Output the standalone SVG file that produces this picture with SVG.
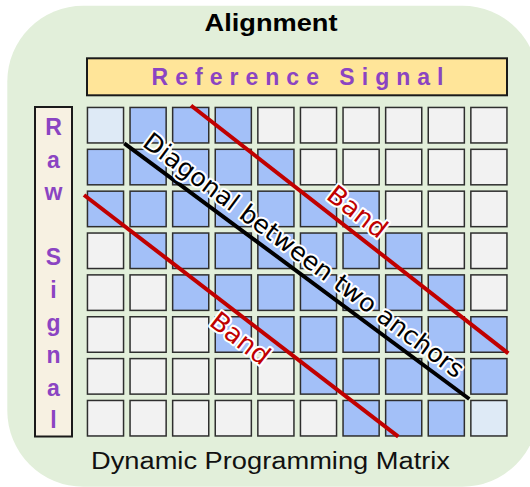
<svg xmlns="http://www.w3.org/2000/svg" width="530" height="487" viewBox="0 0 530 487">
<style>
.cell{stroke:#2e2e2e;stroke-width:1.5}
.g{fill:#f2f2f2}
.b{fill:#a3c0f8}
.l{fill:#deeaf6}
.sig{font-family:"Liberation Sans",Arial,sans-serif;font-weight:bold;font-size:23px;fill:#8b44c2}
.halo{paint-order:stroke;stroke:#ffffff;stroke-width:4;stroke-linejoin:round}
</style>
<rect x="7.3" y="5.7" width="531" height="481" rx="76" fill="#e2efda"/>
<g id="title">
<text x="271" y="30.7" text-anchor="middle" font-family="Liberation Sans, Arial, sans-serif" font-weight="bold" font-size="24" textLength="133" lengthAdjust="spacingAndGlyphs" fill="#000">Alignment</text>
</g>
<g id="reference-signal">
<rect x="87" y="58.3" width="420" height="37" fill="#ffe599" stroke="#1a1a1a" stroke-width="2"/>
<text class="sig" x="151.5" y="85" textLength="292" lengthAdjust="spacing">Reference Signal</text>
</g>
<g id="raw-signal">
<rect x="35" y="107" width="37" height="329.5" fill="#f7f1e2" stroke="#1a1a1a" stroke-width="2"/>
<g class="sig" text-anchor="middle" font-size="24">
<text x="53.5" y="135">R</text>
<text x="53.5" y="167.6">a</text>
<text x="53.5" y="200.2">w</text>
<text x="53.5" y="265.4">S</text>
<text x="53.5" y="298">i</text>
<text x="53.5" y="330.6">g</text>
<text x="53.5" y="363.2">n</text>
<text x="53.5" y="395.8">a</text>
<text x="53.5" y="428.4">l</text>
</g>
</g>
<g id="matrix">
<g class="cell">
<rect class="l" x="87.45" y="107.45" width="36.1" height="35.5"/>
<rect class="b" x="130.05" y="107.45" width="36.1" height="35.5"/>
<rect class="b" x="172.65" y="107.45" width="36.1" height="35.5"/>
<rect class="b" x="215.25" y="107.45" width="36.1" height="35.5"/>
<rect class="g" x="257.85" y="107.45" width="36.1" height="35.5"/>
<rect class="g" x="300.45" y="107.45" width="36.1" height="35.5"/>
<rect class="g" x="343.05" y="107.45" width="36.1" height="35.5"/>
<rect class="g" x="385.65" y="107.45" width="36.1" height="35.5"/>
<rect class="g" x="428.25" y="107.45" width="36.1" height="35.5"/>
<rect class="g" x="470.85" y="107.45" width="36.1" height="35.5"/>
<rect class="b" x="87.45" y="149.31" width="36.1" height="35.5"/>
<rect class="b" x="130.05" y="149.31" width="36.1" height="35.5"/>
<rect class="b" x="172.65" y="149.31" width="36.1" height="35.5"/>
<rect class="b" x="215.25" y="149.31" width="36.1" height="35.5"/>
<rect class="b" x="257.85" y="149.31" width="36.1" height="35.5"/>
<rect class="g" x="300.45" y="149.31" width="36.1" height="35.5"/>
<rect class="g" x="343.05" y="149.31" width="36.1" height="35.5"/>
<rect class="g" x="385.65" y="149.31" width="36.1" height="35.5"/>
<rect class="g" x="428.25" y="149.31" width="36.1" height="35.5"/>
<rect class="g" x="470.85" y="149.31" width="36.1" height="35.5"/>
<rect class="b" x="87.45" y="191.17" width="36.1" height="35.5"/>
<rect class="b" x="130.05" y="191.17" width="36.1" height="35.5"/>
<rect class="b" x="172.65" y="191.17" width="36.1" height="35.5"/>
<rect class="b" x="215.25" y="191.17" width="36.1" height="35.5"/>
<rect class="b" x="257.85" y="191.17" width="36.1" height="35.5"/>
<rect class="b" x="300.45" y="191.17" width="36.1" height="35.5"/>
<rect class="b" x="343.05" y="191.17" width="36.1" height="35.5"/>
<rect class="g" x="385.65" y="191.17" width="36.1" height="35.5"/>
<rect class="g" x="428.25" y="191.17" width="36.1" height="35.5"/>
<rect class="g" x="470.85" y="191.17" width="36.1" height="35.5"/>
<rect class="g" x="87.45" y="233.03" width="36.1" height="35.5"/>
<rect class="b" x="130.05" y="233.03" width="36.1" height="35.5"/>
<rect class="b" x="172.65" y="233.03" width="36.1" height="35.5"/>
<rect class="b" x="215.25" y="233.03" width="36.1" height="35.5"/>
<rect class="b" x="257.85" y="233.03" width="36.1" height="35.5"/>
<rect class="b" x="300.45" y="233.03" width="36.1" height="35.5"/>
<rect class="b" x="343.05" y="233.03" width="36.1" height="35.5"/>
<rect class="b" x="385.65" y="233.03" width="36.1" height="35.5"/>
<rect class="g" x="428.25" y="233.03" width="36.1" height="35.5"/>
<rect class="g" x="470.85" y="233.03" width="36.1" height="35.5"/>
<rect class="g" x="87.45" y="274.89" width="36.1" height="35.5"/>
<rect class="g" x="130.05" y="274.89" width="36.1" height="35.5"/>
<rect class="b" x="172.65" y="274.89" width="36.1" height="35.5"/>
<rect class="b" x="215.25" y="274.89" width="36.1" height="35.5"/>
<rect class="b" x="257.85" y="274.89" width="36.1" height="35.5"/>
<rect class="b" x="300.45" y="274.89" width="36.1" height="35.5"/>
<rect class="b" x="343.05" y="274.89" width="36.1" height="35.5"/>
<rect class="b" x="385.65" y="274.89" width="36.1" height="35.5"/>
<rect class="b" x="428.25" y="274.89" width="36.1" height="35.5"/>
<rect class="g" x="470.85" y="274.89" width="36.1" height="35.5"/>
<rect class="g" x="87.45" y="316.75" width="36.1" height="35.5"/>
<rect class="g" x="130.05" y="316.75" width="36.1" height="35.5"/>
<rect class="g" x="172.65" y="316.75" width="36.1" height="35.5"/>
<rect class="b" x="215.25" y="316.75" width="36.1" height="35.5"/>
<rect class="b" x="257.85" y="316.75" width="36.1" height="35.5"/>
<rect class="b" x="300.45" y="316.75" width="36.1" height="35.5"/>
<rect class="b" x="343.05" y="316.75" width="36.1" height="35.5"/>
<rect class="b" x="385.65" y="316.75" width="36.1" height="35.5"/>
<rect class="b" x="428.25" y="316.75" width="36.1" height="35.5"/>
<rect class="b" x="470.85" y="316.75" width="36.1" height="35.5"/>
<rect class="g" x="87.45" y="358.61" width="36.1" height="35.5"/>
<rect class="g" x="130.05" y="358.61" width="36.1" height="35.5"/>
<rect class="g" x="172.65" y="358.61" width="36.1" height="35.5"/>
<rect class="g" x="215.25" y="358.61" width="36.1" height="35.5"/>
<rect class="g" x="257.85" y="358.61" width="36.1" height="35.5"/>
<rect class="b" x="300.45" y="358.61" width="36.1" height="35.5"/>
<rect class="b" x="343.05" y="358.61" width="36.1" height="35.5"/>
<rect class="b" x="385.65" y="358.61" width="36.1" height="35.5"/>
<rect class="b" x="428.25" y="358.61" width="36.1" height="35.5"/>
<rect class="b" x="470.85" y="358.61" width="36.1" height="35.5"/>
<rect class="g" x="87.45" y="400.47" width="36.1" height="35.5"/>
<rect class="g" x="130.05" y="400.47" width="36.1" height="35.5"/>
<rect class="g" x="172.65" y="400.47" width="36.1" height="35.5"/>
<rect class="g" x="215.25" y="400.47" width="36.1" height="35.5"/>
<rect class="g" x="257.85" y="400.47" width="36.1" height="35.5"/>
<rect class="g" x="300.45" y="400.47" width="36.1" height="35.5"/>
<rect class="b" x="343.05" y="400.47" width="36.1" height="35.5"/>
<rect class="b" x="385.65" y="400.47" width="36.1" height="35.5"/>
<rect class="b" x="428.25" y="400.47" width="36.1" height="35.5"/>
<rect class="l" x="470.85" y="400.47" width="36.1" height="35.5"/>
</g>
</g>
<g id="connectors" stroke-width="4" fill="none">
<line id="band-upper" x1="191" y1="105.5" x2="508.3" y2="353.3" stroke="#c00000"/>
<line id="band-lower" x1="84" y1="195" x2="398.3" y2="436.7" stroke="#c00000"/>
<line id="diagonal" x1="124.3" y1="143.3" x2="469.3" y2="399" stroke="#000"/>
</g>
<g id="labels" font-family="DejaVu Sans, sans-serif">
<text class="halo" transform="translate(304,255) rotate(36.6)" y="9" text-anchor="middle" font-size="25" textLength="392" lengthAdjust="spacingAndGlyphs" fill="#000">Diagonal between two anchors</text>
<text class="halo" transform="translate(357.5,211.7) rotate(37.8)" y="9" text-anchor="middle" font-size="26" textLength="68" lengthAdjust="spacingAndGlyphs" fill="#c00000">Band</text>
<text class="halo" transform="translate(240.3,338.3) rotate(37.8)" y="9" text-anchor="middle" font-size="26" textLength="68" lengthAdjust="spacingAndGlyphs" fill="#c00000">Band</text>
</g>
<g id="caption">
<text x="91" y="469.3" font-family="Liberation Sans, Arial, sans-serif" font-size="23" textLength="359" lengthAdjust="spacingAndGlyphs" fill="#111">Dynamic Programming Matrix</text>
</g>
</svg>
